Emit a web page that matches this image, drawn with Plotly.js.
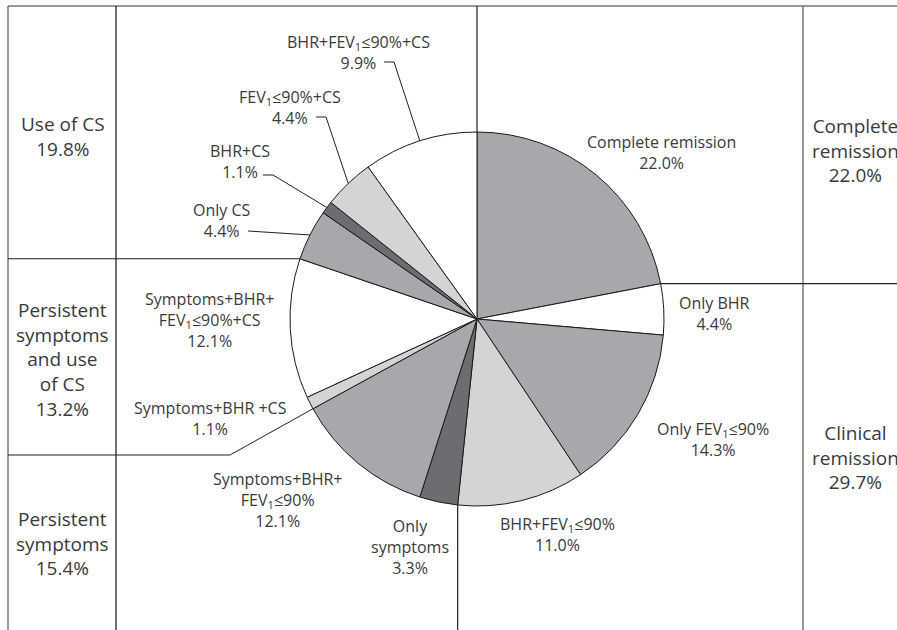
<!DOCTYPE html>
<html>
<head>
<meta charset="utf-8">
<script src="https://cdn.plot.ly/plotly-3.0.1.min.js"></script>
<style>html,body{margin:0;padding:0;background:#fff;}#chart{width:897px;height:630px;}</style>
</head>
<body>
<div id="chart"></div>
<script>
// ---- data ----
const sliceLabels = [
  'Complete remission', 'Only BHR', 'Only FEV1≤90%', 'BHR+FEV1≤90%', 'Only symptoms',
  'Symptoms+BHR+FEV1≤90%', 'Symptoms+BHR +CS', 'Symptoms+BHR+FEV1≤90%+CS',
  'Only CS', 'BHR+CS', 'FEV1≤90%+CS', 'BHR+FEV1≤90%+CS'
];
const sliceValues = [22.0, 4.4, 14.3, 11.0, 3.3, 12.1, 1.1, 12.1, 4.4, 1.1, 4.4, 9.9];
const sliceDisplay = [
  'Complete remission', 'Only BHR', 'Only FEV<sub>1</sub>≤90%', 'BHR+FEV<sub>1</sub>≤90%', 'Only<br>symptoms',
  'Symptoms+BHR+<br>FEV<sub>1</sub>≤90%', 'Symptoms+BHR +CS', 'Symptoms+BHR+<br>FEV<sub>1</sub>≤90%+CS',
  'Only CS', 'BHR+CS', 'FEV<sub>1</sub>≤90%+CS', 'BHR+FEV<sub>1</sub>≤90%+CS'
];
const groupLabels = ['Use of CS', 'Persistent<br>symptoms<br>and use<br>of CS', 'Persistent<br>symptoms', 'Complete<br>remission', 'Clinical<br>remission'];
const groupValues = [19.8, 13.2, 15.4, 22.0, 29.7];

// ---- styles / layout ----
const W = 897, H = 630;
const cx = 477, cy = 319, R = 187;
const MID = '#a7a8ab', LIGHT = '#d3d4d6', DARK = '#6c6d71', WHITE = '#ffffff';
const sliceColors = [MID, WHITE, MID, LIGHT, DARK, MID, LIGHT, WHITE, MID, DARK, LIGHT, WHITE];
const TXT = '#3a3a3a';
const FONT = 'Open Sans, sans-serif';

const px = x => x / W;
const py = y => 1 - y / H;

const total = sliceValues.reduce((a, b) => a + b, 0);
const cum = [0];
sliceValues.forEach(v => cum.push(cum[cum.length - 1] + v));
// point on pie rim at a given cumulative value (clockwise from 12 o'clock)
function rim(c) {
  const a = c / total * 2 * Math.PI;
  return [cx + R * Math.sin(a), cy - R * Math.cos(a)];
}
function mid(i) { return rim((cum[i] + cum[i + 1]) / 2); }

// label block centres (pixels)
const labelPos = [
  [661, 152], [714, 313], [713, 439], [557, 534], [410, 547],
  [277, 500], [210, 418], [209, 320], [222, 221], [240, 162], [290, 107], [358, 52]
];
const groupPos = [[63, 136], [62, 359], [63, 543], [855, 150], [855, 457]];

const annotations = [];
sliceDisplay.forEach((t, i) => {
  annotations.push({
    xref: 'paper', yref: 'paper', x: px(labelPos[i][0]), y: py(labelPos[i][1]),
    xanchor: 'center', yanchor: 'middle', showarrow: false, align: 'center',
    text: t + '<br>' + sliceValues[i].toFixed(1) + '%',
    font: {family: FONT, size: 16, color: TXT}
  });
});
groupLabels.forEach((t, i) => {
  annotations.push({
    xref: 'paper', yref: 'paper', x: px(groupPos[i][0]), y: py(groupPos[i][1]),
    xanchor: 'center', yanchor: 'middle', showarrow: false, align: 'center',
    text: t + '<br>' + groupValues[i].toFixed(1) + '%',
    font: {family: FONT, size: 19, color: TXT}
  });
});

function seg(x0, y0, x1, y1, color, w) {
  return {type: 'line', xref: 'paper', yref: 'paper', x0: px(x0), y0: py(y0), x1: px(x1), y1: py(y1),
          line: {color: color || '#222', width: w || 1.2}};
}
function path(pts, color) {
  let d = 'M' + pts.map(p => px(p[0]) + ',' + py(p[1])).join(' L');
  return {type: 'path', xref: 'paper', yref: 'paper', path: d, line: {color: color || '#222', width: 1}};
}

const shapes = [];
// frame
shapes.push(seg(8, 6, W, 6, '#777', 1.5));
shapes.push(seg(8, 6, 8, H, '#777', 1.5));
shapes.push(seg(803, 6, 803, H, '#777', 1.5));
shapes.push(seg(116, 6, 116, H, '#222', 1.3));
// dividers anchored to slice boundaries
const pTop = rim(cum[0]);
shapes.push(seg(pTop[0], 6, pTop[0], pTop[1]));
const pRight = rim(cum[1]);
shapes.push(seg(pRight[0], pRight[1], W, pRight[1]));
const pBottom = rim(cum[4]);
shapes.push(seg(pBottom[0], pBottom[1], pBottom[0], H));
const pLeft = rim(cum[8]);
shapes.push(seg(8, pLeft[1], pLeft[0], pLeft[1]));
const pLow = rim(cum[6]);
shapes.push(path([[8, 455], [230, 455], pLow], '#222'));
// leader lines
const m11 = mid(11), m10 = mid(10), m9 = mid(9), m8 = mid(8);
shapes.push(path([[384, 62], [394, 62], m11]));
shapes.push(path([[316, 117], [326, 117], m10]));
shapes.push(path([[263, 175], [273, 175], m9]));
shapes.push(path([[248, 231], m8]));

const trace = {
  type: 'pie',
  labels: sliceLabels,
  values: sliceValues,
  sort: false,
  direction: 'clockwise',
  rotation: 0,
  textinfo: 'none',
  hoverinfo: 'skip',
  showlegend: false,
  marker: {colors: sliceColors, line: {color: '#1a1a1a', width: 1}},
  domain: {x: [px(cx - R), px(cx + R)], y: [py(cy + R), py(cy - R)]}
};

Plotly.newPlot('chart', [trace], {
  width: W, height: H,
  margin: {l: 0, r: 0, t: 0, b: 0},
  paper_bgcolor: '#fff',
  showlegend: false,
  annotations: annotations,
  shapes: shapes
}, {staticPlot: true});
</script>
</body>
</html>
